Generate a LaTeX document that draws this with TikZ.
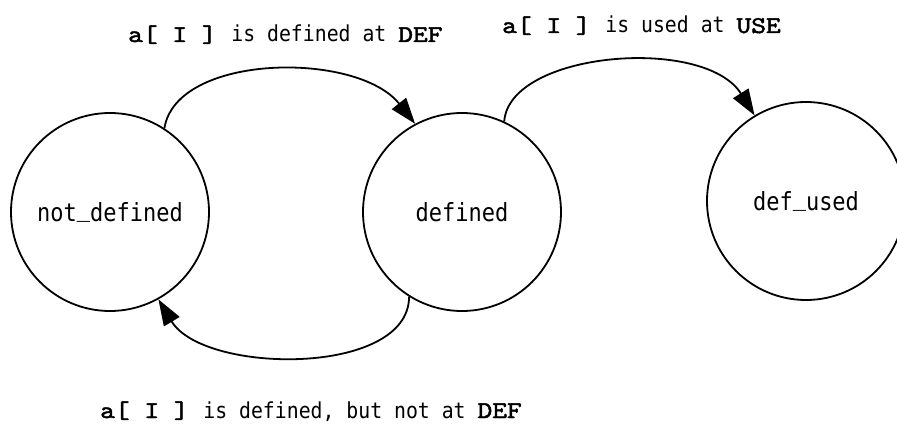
\documentclass[tikz,border=0pt]{standalone}
\usepackage{fontspec}
\usetikzlibrary{arrows.meta}
\newfontfamily\labfont{DejaVu Sans Mono}[FakeStretch=0.9]
\newfontfamily\statefont{DejaVu Sans Mono}[FakeStretch=0.88]
\newfontfamily\codefont{lmmono10-regular.otf}[FakeStretch=1.17, FakeBold=2]
\newcommand{\cde}[1]{{\codefont\fontsize{24}{28}\selectfont #1}}
\newcommand{\txt}[1]{{\labfont\fontsize{22}{26}\selectfont #1}}
% underscore sitting on the baseline
\newcommand{\lowbar}{\raisebox{5pt}{\_}}
\tikzset{
  state/.style={draw, circle, line width=1.8pt, minimum size=198pt, inner sep=0pt,
                font=\statefont\fontsize{25}{28}\selectfont},
  trans/.style={line width=1.8pt, -{Triangle[length=26pt,width=18pt]}},
  edgelabel/.style={anchor=base west, inner sep=0pt}
}
\begin{document}
\begin{tikzpicture}[x=1pt, y=-1pt]
  \useasboundingbox (0,0) rectangle (897,425);

  % states
  \node[state] (nd) at (110,212) {not\lowbar defined};
  \node[state] (df) at (462,212) {defined};
  \node[state] (du) at (806,201) {def\lowbar used};

  % transitions
  \draw[trans] (nd.57) .. controls +(12,-75) and +(-58,-73) .. (df.118);
  \draw[trans] (df.65.5) .. controls +(5,-70) and +(-50,-80) .. (du.121);
  \draw[trans] (df.238.5) .. controls +(0,80) and +(45,75) .. (nd.-61);

  % transition labels
  \node[edgelabel] (l1) at (128,42) {\cde{a[ I ] }\txt{is defined at }\cde{DEF}};
  \node[edgelabel] (l2) at (502,33) {\cde{a[ I ] }\txt{is used at }\cde{USE}};
  \node[edgelabel] (l3) at (100,418) {\cde{a[ I ] }\txt{is defined, but not at }\cde{DEF}};
\end{tikzpicture}
\end{document}
